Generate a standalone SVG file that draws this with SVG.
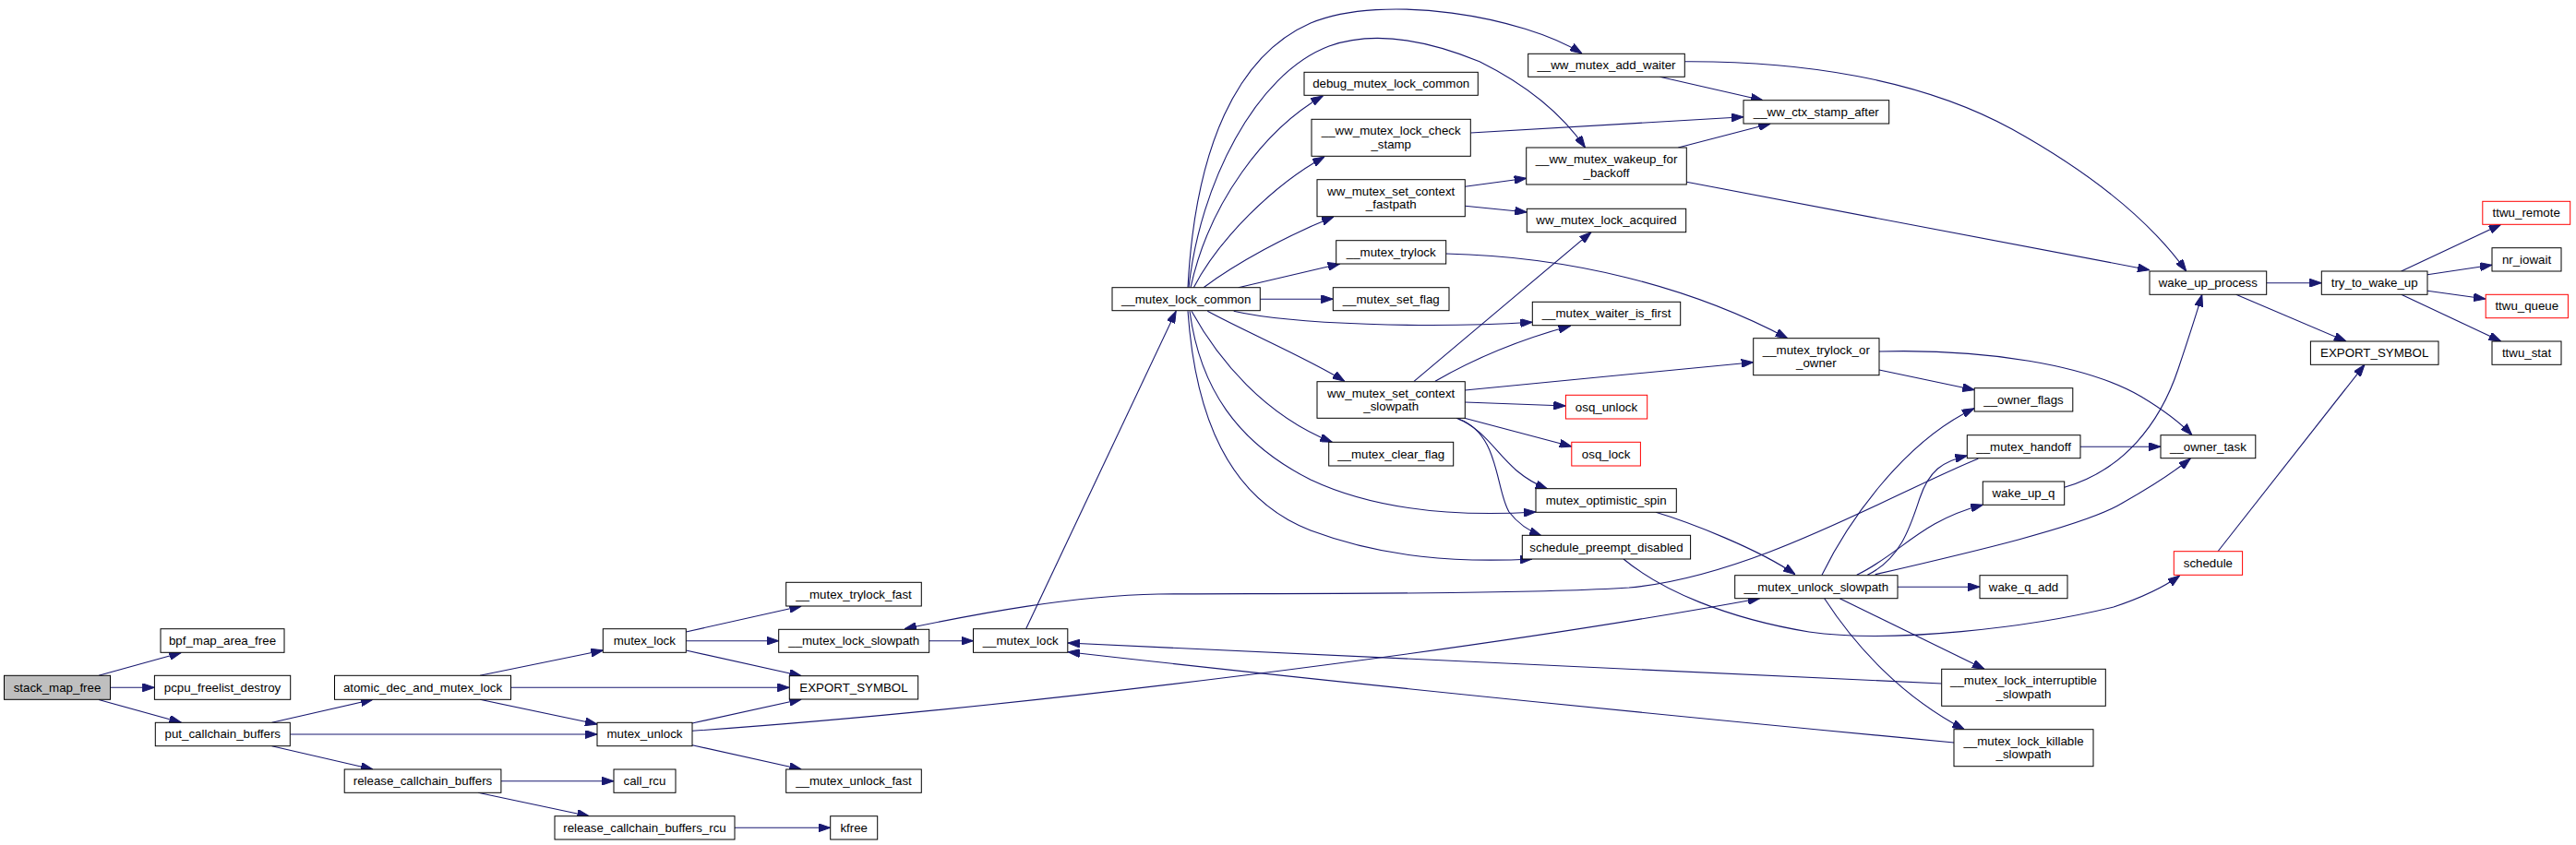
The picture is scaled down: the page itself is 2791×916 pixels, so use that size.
<svg xmlns="http://www.w3.org/2000/svg" width="2791" height="916" viewBox="0 0 2791 916">
<style>
.n rect{fill:#ffffff;stroke:#000000;stroke-width:1}
.n.r rect{stroke:#ff0000}
.n.g rect{fill:#bfbfbf}
.n text{font-family:"Liberation Sans",Arial,Helvetica,sans-serif;font-size:13.3px;fill:#000000;text-anchor:middle}
#edges path{fill:none;stroke:#191970;stroke-width:1.1;marker-end:url(#ah)}
</style>
<defs>
<marker id="ah" viewBox="0 0 13 9" refX="13" refY="4.5" markerWidth="13" markerHeight="9" markerUnits="userSpaceOnUse" orient="auto">
<path d="M0,0 L13,4.5 L0,9 z" fill="#191970" stroke="#191970" stroke-width="1"/>
</marker>
</defs>
<rect x="0" y="0" width="2791" height="916" fill="#ffffff"/>
<g id="edges">
<path d="M107,732.3 L196.4,707.5"/>
<path d="M119.5,745.3 L167.4,745.3"/>
<path d="M107,758.5 L196.4,783.3"/>
<path d="M294.6,783.3 L404,758.3"/>
<path d="M314.3,796 L647,796"/>
<path d="M294.6,808.7 L404,834"/>
<path d="M520,732.3 L653.3,705"/>
<path d="M553.5,745.3 L855.3,745.3"/>
<path d="M520,758.3 L647,785"/>
<path d="M543,846.7 L665,846.7"/>
<path d="M518,859.3 L638.4,884.7"/>
<path d="M743.3,685 L868.3,657"/>
<path d="M743.3,694.7 L843.7,694.7"/>
<path d="M743.3,705 L868.3,732.7"/>
<path d="M750,784 L868.3,758"/>
<path d="M750,807.7 L868.3,834"/>
<path d="M750,792.3 C1100,768 1600,705 1906.7,648.7"/>
<path d="M796,897.3 L899.7,897.3"/>
<path d="M1006.7,694.7 L1054.5,694.7"/>
<path d="M1111.6,681.7 L1274.2,337.3"/>
<path d="M2103.7,741 L1157,697"/>
<path d="M2117,805 C1800,775 1450,740 1157,706.7"/>
<path d="M2143.3,497.3 C2050,535 1900,625 1765,637 C1640,645 1350,643 1255,644 C1160,646 1060,665 980,681.7"/>
<path d="M1287,311.7 C1295,160 1340,60 1420,25 C1500,-8 1650,18 1714,58"/>
<path d="M1288,311.7 C1300,200 1360,80 1440,50 C1490,32 1550,45 1603,66.7 C1650,90 1690,120 1717.5,160"/>
<path d="M1290,311.7 C1310,220 1370,140 1433.3,104"/>
<path d="M1293.3,311.7 C1320,260 1380,200 1435,170"/>
<path d="M1304,311.7 C1340,285 1395,255 1445,235"/>
<path d="M1341.7,311.7 L1451.7,286"/>
<path d="M1365.3,324.2 L1444.3,324.2"/>
<path d="M1336.7,337.3 C1400,352 1550,356 1660.3,349.3"/>
<path d="M1308.3,337.3 C1350,360 1420,390 1456.7,413.3"/>
<path d="M1291,337.3 C1320,390 1370,450 1443.3,479.3"/>
<path d="M1289,337.3 C1300,420 1340,480 1420,520 C1490,553 1580,560 1664,555"/>
<path d="M1287,337.3 C1295,450 1330,540 1420,575 C1500,605 1580,610 1660,606"/>
<path d="M1532,413.3 L1724,251.7"/>
<path d="M1555,413.3 C1590,393 1640,370 1701.5,353.3"/>
<path d="M1587.3,423 L1899.7,392.7"/>
<path d="M1587.3,436 L1696.4,440"/>
<path d="M1586.7,453.3 L1702.8,484"/>
<path d="M1578,453.3 C1620,470 1625,510 1676.7,530"/>
<path d="M1580,454 C1625,470 1620,530 1635,555 C1645,568 1655,575 1670,580.7"/>
<path d="M1798.3,83.3 L1910,108.7"/>
<path d="M1825.3,66.7 C1950,66 2080,85 2180,140 C2270,190 2330,240 2368.8,294"/>
<path d="M1593.3,144 L1889,126.7"/>
<path d="M1818.3,160 L1918.3,134"/>
<path d="M1827.3,197.3 L2329,292.7"/>
<path d="M1587.3,202.3 L1653.7,193.3"/>
<path d="M1587.3,223.3 L1654.3,230"/>
<path d="M1566.7,275 C1700,278 1830,310 1936.7,366.7"/>
<path d="M2036,401 L2139.3,422.7"/>
<path d="M2036,381 C2150,378 2260,395 2320,430 C2345,445 2362,458 2375,471.7"/>
<path d="M2455.7,306.7 L2515.3,306.7"/>
<path d="M2422.7,319.3 L2542,370"/>
<path d="M2601.7,294 L2709.7,243.3"/>
<path d="M2630,297.7 L2700,287.3"/>
<path d="M2630,315.3 L2693,324"/>
<path d="M2601.7,319.3 L2709.7,370"/>
<path d="M2402.8,598 L2562,395.3"/>
<path d="M1794,555.3 C1830,566 1905,595 1945,622.7"/>
<path d="M1974,623.3 C2000,570 2060,480 2139,442.7"/>
<path d="M2023.3,623.3 C2060,605 2070,570 2080,540 C2090,510 2105,500 2131.3,494"/>
<path d="M2011.7,623.3 C2060,600 2080,565 2148.3,547.3"/>
<path d="M2031.7,622.7 C2130,600 2260,570 2300,545 C2330,528 2355,512 2373.3,497"/>
<path d="M2056,636.2 L2145,636.2"/>
<path d="M1993.3,648.7 L2150,725.3"/>
<path d="M1976.7,648.7 C2010,700 2060,755 2128.3,790.7"/>
<path d="M2254,484.2 L2341,484.2"/>
<path d="M2236.7,528.3 C2300,510 2340,460 2360,400 C2370,370 2380,340 2385.8,319.3"/>
<path d="M1759,606 C1800,640 1870,670 1960,685 C2050,698 2200,680 2290,658 C2320,648 2345,636 2361.7,624"/>
</g>
<g id="stack_map_free" class="n g"><rect x="4.5" y="732.3" width="115" height="26"/><text x="62" y="749.6">stack_map_free</text></g>
<g id="bpf_map_area_free" class="n"><rect x="174" y="681.7" width="134" height="25.6"/><text x="241" y="698.8">bpf_map_area_free</text></g>
<g id="pcpu_freelist_destroy" class="n"><rect x="167.4" y="732.3" width="147.3" height="26"/><text x="241" y="749.6">pcpu_freelist_destroy</text></g>
<g id="put_callchain_buffers" class="n"><rect x="168.3" y="783.3" width="146" height="25.4"/><text x="241.3" y="800.3">put_callchain_buffers</text></g>
<g id="atomic_dec_and_mutex_lock" class="n"><rect x="362.5" y="732.3" width="191" height="26"/><text x="458" y="749.6">atomic_dec_and_mutex_lock</text></g>
<g id="release_callchain_buffers" class="n"><rect x="373.2" y="834" width="169.7" height="25.3"/><text x="458" y="851">release_callchain_buffers</text></g>
<g id="mutex_lock" class="n"><rect x="653.3" y="681.7" width="90" height="25.6"/><text x="698.3" y="698.8">mutex_lock</text></g>
<g id="mutex_unlock" class="n"><rect x="647" y="783.3" width="103" height="25.4"/><text x="698.5" y="800.3">mutex_unlock</text></g>
<g id="call_rcu" class="n"><rect x="665" y="834" width="67" height="25.3"/><text x="698.5" y="851">call_rcu</text></g>
<g id="release_callchain_buffers_rcu" class="n"><rect x="601" y="884.7" width="195" height="25.3"/><text x="698.5" y="901.6">release_callchain_buffers_rcu</text></g>
<g id="__mutex_trylock_fast" class="n"><rect x="851.7" y="631.3" width="146.6" height="25.7"/><text x="925" y="648.5">__mutex_trylock_fast</text></g>
<g id="__mutex_lock_slowpath" class="n"><rect x="843.7" y="682.3" width="163" height="25"/><text x="925.2" y="699.1">__mutex_lock_slowpath</text></g>
<g id="EXPORT_SYMBOL" class="n"><rect x="855.3" y="732.7" width="139.4" height="25.3"/><text x="925" y="749.6">EXPORT_SYMBOL</text></g>
<g id="__mutex_unlock_fast" class="n"><rect x="851.7" y="834" width="146.6" height="25.3"/><text x="925" y="851">__mutex_unlock_fast</text></g>
<g id="kfree" class="n"><rect x="899.7" y="884.7" width="51" height="25.3"/><text x="925.2" y="901.6">kfree</text></g>
<g id="__mutex_lock" class="n"><rect x="1054.5" y="681.7" width="102.3" height="25.6"/><text x="1105.7" y="698.8">__mutex_lock</text></g>
<g id="__mutex_lock_common" class="n"><rect x="1205" y="311.7" width="160.3" height="25"/><text x="1285.2" y="328.5">__mutex_lock_common</text></g>
<g id="debug_mutex_lock_common" class="n"><rect x="1413" y="78.3" width="188.3" height="25"/><text x="1507.2" y="95.1">debug_mutex_lock_common</text></g>
<g id="__ww_mutex_lock_check_stamp" class="n"><rect x="1421" y="129.3" width="172.3" height="40"/><text x="1507.2" y="146.4">__ww_mutex_lock_check</text><text x="1507.2" y="160.9">_stamp</text></g>
<g id="ww_mutex_set_context_fastpath" class="n"><rect x="1427" y="194.7" width="160.3" height="40"/><text x="1507.2" y="211.8">ww_mutex_set_context</text><text x="1507.2" y="226.3">_fastpath</text></g>
<g id="__mutex_trylock" class="n"><rect x="1447.7" y="260.7" width="119" height="25.3"/><text x="1507.2" y="277.6">__mutex_trylock</text></g>
<g id="__mutex_set_flag" class="n"><rect x="1444.3" y="311.7" width="125.7" height="25"/><text x="1507.2" y="328.5">__mutex_set_flag</text></g>
<g id="ww_mutex_set_context_slowpath" class="n"><rect x="1427" y="413.7" width="160.3" height="39.6"/><text x="1507.2" y="430.6">ww_mutex_set_context</text><text x="1507.2" y="445.1">_slowpath</text></g>
<g id="__mutex_clear_flag" class="n"><rect x="1439.7" y="479.3" width="135" height="25.7"/><text x="1507.2" y="496.5">__mutex_clear_flag</text></g>
<g id="__ww_mutex_add_waiter" class="n"><rect x="1655.7" y="58.3" width="169.6" height="25"/><text x="1740.5" y="75.1">__ww_mutex_add_waiter</text></g>
<g id="__ww_mutex_wakeup_for_backoff" class="n"><rect x="1653.7" y="160" width="173.6" height="40"/><text x="1740.5" y="177.1">__ww_mutex_wakeup_for</text><text x="1740.5" y="191.6">_backoff</text></g>
<g id="ww_mutex_lock_acquired" class="n"><rect x="1654.3" y="226.3" width="172.4" height="25.4"/><text x="1740.5" y="243.3">ww_mutex_lock_acquired</text></g>
<g id="__mutex_waiter_is_first" class="n"><rect x="1660.3" y="327.3" width="160.4" height="25.4"/><text x="1740.5" y="344.3">__mutex_waiter_is_first</text></g>
<g id="osq_unlock" class="n r"><rect x="1696.4" y="428.3" width="88.3" height="25.7"/><text x="1740.5" y="445.5">osq_unlock</text></g>
<g id="osq_lock" class="n r"><rect x="1702.8" y="479.3" width="74.6" height="25.7"/><text x="1740.1" y="496.5">osq_lock</text></g>
<g id="mutex_optimistic_spin" class="n"><rect x="1664" y="529.7" width="152.3" height="25.6"/><text x="1740.2" y="546.8">mutex_optimistic_spin</text></g>
<g id="schedule_preempt_disabled" class="n"><rect x="1649.3" y="580.3" width="182.3" height="25.7"/><text x="1740.5" y="597.5">schedule_preempt_disabled</text></g>
<g id="__ww_ctx_stamp_after" class="n"><rect x="1889" y="108.7" width="157.7" height="25.3"/><text x="1967.8" y="125.6">__ww_ctx_stamp_after</text></g>
<g id="__mutex_trylock_or_owner" class="n"><rect x="1899.7" y="366.7" width="136.3" height="40"/><text x="1967.8" y="383.8">__mutex_trylock_or</text><text x="1967.8" y="398.3">_owner</text></g>
<g id="__mutex_unlock_slowpath" class="n"><rect x="1879.7" y="623.7" width="176.3" height="25"/><text x="1967.8" y="640.5">__mutex_unlock_slowpath</text></g>
<g id="__owner_flags" class="n"><rect x="2139.2" y="420.7" width="106.6" height="25.3"/><text x="2192.5" y="437.6">__owner_flags</text></g>
<g id="__mutex_handoff" class="n"><rect x="2131.3" y="471.7" width="122.7" height="25"/><text x="2192.6" y="488.5">__mutex_handoff</text></g>
<g id="wake_up_q" class="n"><rect x="2148.3" y="522" width="88.4" height="25.3"/><text x="2192.5" y="539">wake_up_q</text></g>
<g id="wake_q_add" class="n"><rect x="2145" y="623.7" width="95" height="25"/><text x="2192.5" y="640.5">wake_q_add</text></g>
<g id="__mutex_lock_interruptible_slowpath" class="n"><rect x="2103.7" y="725.3" width="177.6" height="40"/><text x="2192.5" y="742.4">__mutex_lock_interruptible</text><text x="2192.5" y="756.9">_slowpath</text></g>
<g id="__mutex_lock_killable_slowpath" class="n"><rect x="2117" y="790.7" width="151" height="40"/><text x="2192.5" y="807.8">__mutex_lock_killable</text><text x="2192.5" y="822.3">_slowpath</text></g>
<g id="wake_up_process" class="n"><rect x="2329" y="294" width="126.7" height="25.3"/><text x="2392.3" y="311">wake_up_process</text></g>
<g id="__owner_task" class="n"><rect x="2341" y="471.7" width="102.8" height="25"/><text x="2392.4" y="488.5">__owner_task</text></g>
<g id="schedule" class="n r"><rect x="2355.3" y="597.7" width="74.3" height="25.6"/><text x="2392.4" y="614.8">schedule</text></g>
<g id="try_to_wake_up" class="n"><rect x="2515.3" y="294" width="114.7" height="25.3"/><text x="2572.7" y="311">try_to_wake_up</text></g>
<g id="EXPORT_SYMBOL_2" class="n"><rect x="2503.4" y="370" width="138.6" height="25.3"/><text x="2572.7" y="387">EXPORT_SYMBOL</text></g>
<g id="ttwu_remote" class="n r"><rect x="2689.8" y="218.3" width="94.9" height="25"/><text x="2737.2" y="235.1">ttwu_remote</text></g>
<g id="nr_iowait" class="n"><rect x="2700" y="268.7" width="75" height="25.3"/><text x="2737.5" y="285.6">nr_iowait</text></g>
<g id="ttwu_queue" class="n r"><rect x="2693.2" y="319.3" width="89.2" height="25.4"/><text x="2737.8" y="336.3">ttwu_queue</text></g>
<g id="ttwu_stat" class="n"><rect x="2700" y="370" width="75" height="25.3"/><text x="2737.5" y="387">ttwu_stat</text></g>
</svg>
